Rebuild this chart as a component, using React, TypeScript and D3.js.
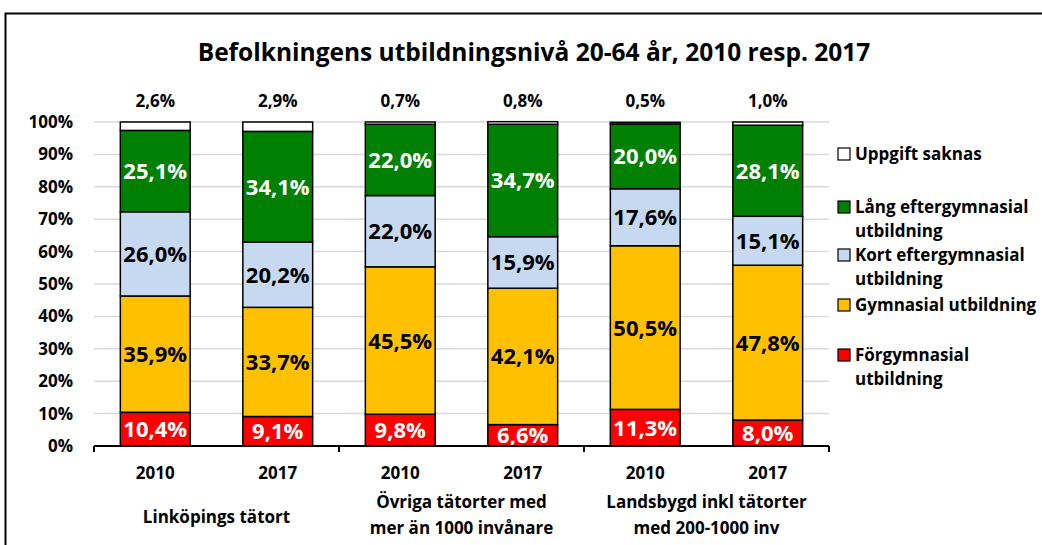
import React from "react";
import * as d3 from "d3";

const groups = ["Linköpings tätort", "Övriga tätorter med\nmer än 1000 invånare", "Landsbygd inkl tätorter\nmed 200-1000 inv"];
const years = ["2010", "2017"];
const seriesNames = ["Förgymnasial utbildning", "Gymnasial utbildning", "Kort eftergymnasial utbildning", "Lång eftergymnasial utbildning", "Uppgift saknas"];
const forgymnasial = [10.4, 9.1, 9.8, 6.6, 11.3, 8.0];
const gymnasial = [35.9, 33.7, 45.5, 42.1, 50.5, 47.8];
const kortEfter = [26.0, 20.2, 22.0, 15.9, 17.6, 15.1];
const langEfter = [25.1, 34.1, 22.0, 34.7, 20.0, 28.1];
const saknas = [2.6, 2.9, 0.7, 0.8, 0.5, 1.0];
const yTicks = [0, 10, 20, 30, 40, 50, 60, 70, 80, 90, 100];

const colors = ["#FF0000", "#FFC000", "#C6D9F1", "#008000", "#FFFFFF"];
const labelColors = ["#fff", "#000", "#000", "#fff", "#000"];
const legendItems = [
  { lines: ["Uppgift saknas"], c: 4, y: 160 },
  { lines: ["Lång eftergymnasial", "utbildning"], c: 3, y: 213 },
  { lines: ["Kort eftergymnasial", "utbildning"], c: 2, y: 261 },
  { lines: ["Gymnasial utbildning"], c: 1, y: 311 },
  { lines: ["Förgymnasial", "utbildning"], c: 0, y: 361 },
];

const FONT = "'Open Sans', Arial, sans-serif";
const fmt = (v: number) => v.toFixed(1).replace(".", ",") + "%";

export default function App() {
  const left = 94, right = 829, top = 122, bottom = 446;
  const bars = groups.flatMap((g, gi) => years.map((yr, yi) => `${gi}-${yi}`));
  const x = d3.scaleBand<string>().domain(bars).range([left, right]).paddingInner(0.43).paddingOuter(0.215);
  const xg = d3.scaleBand<string>().domain(groups).range([left, right]);
  const y = d3.scaleLinear().domain([0, 100]).range([bottom, top]);
  const series = [forgymnasial, gymnasial, kortEfter, langEfter, saknas];
  const rows = bars.map((b, i) => {
    const o: any = { key: b };
    series.forEach((s, si) => (o["s" + si] = s[i]));
    return o;
  });
  const stack = d3.stack<any>().keys(series.map((_, i) => "s" + i))(rows);

  return (
    <svg width={1042} height={545} style={{ display: "block", position: "absolute", left: 0, top: 0, fontFamily: FONT, fontWeight: "bold" }}>
      <rect x={0} y={0} width={1042} height={545} fill="#fff" />
      <path d="M5.5,545 V13.5 H1042" fill="none" stroke="#000" strokeWidth={2} />
      <text x={534} y={61} textAnchor="middle" fontSize={24.5} fill="#000">Befolkningens utbildningsnivå 20-64 år, 2010 resp. 2017</text>
      {yTicks.map((t) => (
        <g key={t}>
          {t > 0 && <line x1={left} x2={right} y1={y(t)} y2={y(t)} stroke="#d9d9d9" strokeWidth={1.5} />}
          <text x={73} y={y(t) + 6} textAnchor="end" fontSize={17}>{t}%</text>
        </g>
      ))}
      {stack.map((layer, si) =>
        layer.map((d, i) => {
          const x0 = x(bars[i])!;
          return (
            <rect key={si + "-" + i} x={x0} y={y(d[1])} width={x.bandwidth()} height={y(d[0]) - y(d[1])}
              fill={colors[si]} stroke="#000" strokeWidth={1.5} />
          );
        })
      )}
      {stack.map((layer, si) =>
        layer.map((d, i) => {
          const cx = x(bars[i])! + x.bandwidth() / 2;
          if (si === 4) {
            return <text key={"l" + si + i} x={cx} y={107} textAnchor="middle" fontSize={17}>{fmt(series[si][i])}</text>;
          }
          return (
            <text key={"l" + si + i} x={cx} y={(y(d[0]) + y(d[1])) / 2 + 8} textAnchor="middle" fontSize={22} fill={labelColors[si]}>
              {fmt(series[si][i])}
            </text>
          );
        })
      )}
      <line x1={left} x2={right} y1={bottom} y2={bottom} stroke="#000" strokeWidth={2} />
      {[0, 1, 2, 3].map((k) => {
        const gx = k < 3 ? xg(groups[k])! : right;
        return <line key={k} x1={gx} x2={gx} y1={bottom} y2={bottom + 6} stroke="#000" strokeWidth={2} />;
      })}
      {bars.map((b, i) => (
        <text key={"yr" + b} x={x(b)! + x.bandwidth() / 2} y={479} textAnchor="middle" fontSize={17}>{years[i % 2]}</text>
      ))}
      {groups.map((g) => {
        const lines = g.split("\n");
        const cx = xg(g)! + xg.bandwidth() / 2;
        return (
          <text key={g} x={cx} textAnchor="middle" fontSize={17}>
            {lines.map((l, li) => (
              <tspan key={li} x={cx} y={lines.length === 1 ? 523 : 508 + li * 26}>{l}</tspan>
            ))}
          </text>
        );
      })}
      {legendItems.map((it) => (
        <g key={it.c}>
          <rect x={838} y={it.y - 12} width={12} height={12} fill={colors[it.c]} stroke="#000" strokeWidth={1.2} />
          <text fontSize={17}>
            {it.lines.map((l, li) => (
              <tspan key={li} x={855} y={it.y + li * 24}>{l}</tspan>
            ))}
          </text>
        </g>
      ))}
    </svg>
  );
}
